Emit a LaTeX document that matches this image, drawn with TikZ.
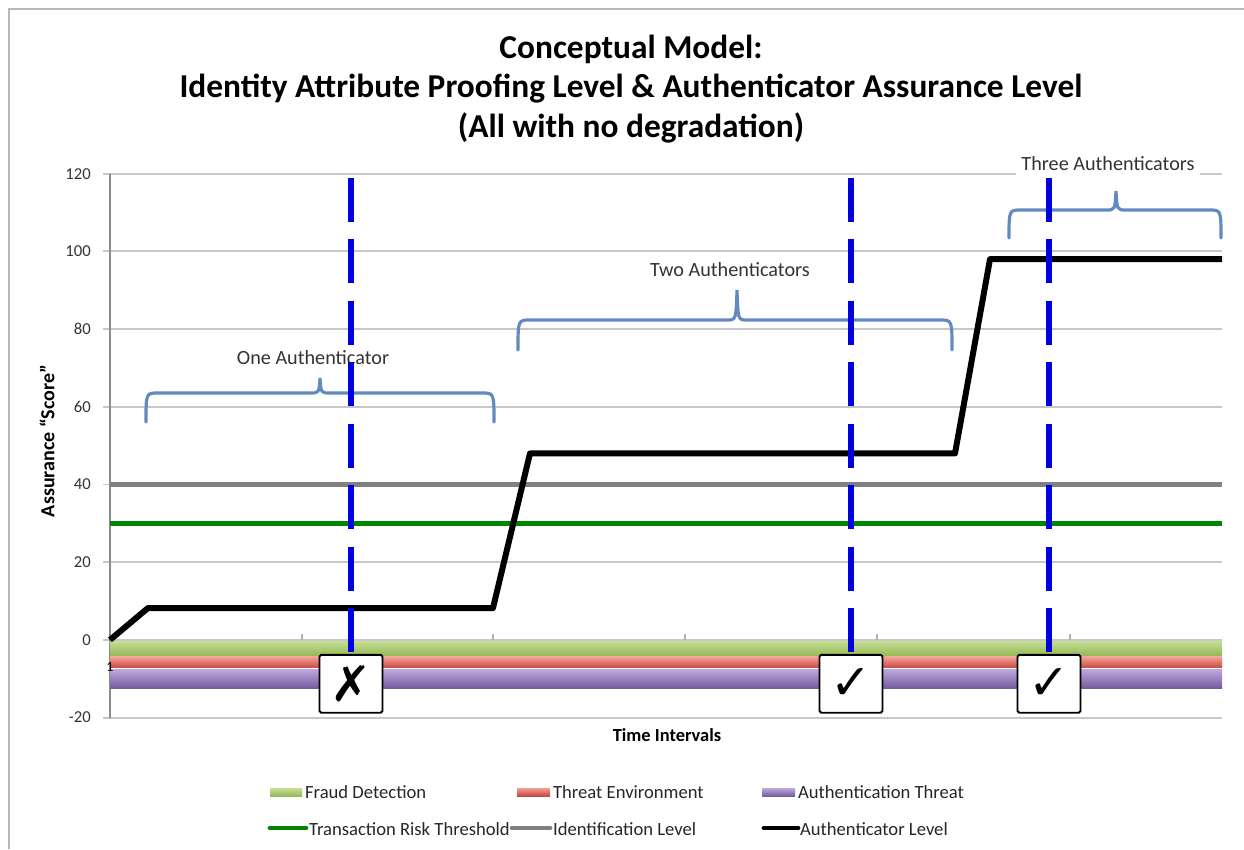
\documentclass[tikz,border=0pt]{standalone}
\usepackage{fontspec}
\setmainfont{Carlito}
\newfontfamily\symfont{DejaVu Sans}
\definecolor{bracecol}{RGB}{98,138,190}
\definecolor{authblue}{RGB}{0,0,225}
\definecolor{riskgreen}{RGB}{0,135,0}
\begin{document}
\begin{tikzpicture}[x=0.02cm,y=-0.02cm,
    grid line/.style={draw=black!22,line width=1.1pt},
    band/.style={draw=none},
    brace/.style={draw=bracecol,line width=1.8pt,line cap=round},
    auth mark/.style={draw=authblue,line width=2.9pt,dash pattern=on 25pt off 10pt},
    check box/.style={draw=black,line width=1.1pt,fill=white,rounded corners=1pt,
      minimum width=1.26cm,minimum height=1.16cm,inner sep=0pt,
      font=\symfont\fontsize{28}{28}\selectfont},
    lbl/.style={font=\fontsize{9.5}{11}\selectfont,text=black!80},
    brace text/.style={font=\fontsize{11.5}{13}\selectfont,text=black!80},
    legend text/.style={font=\fontsize{10.6}{12}\selectfont,text=black!85,anchor=west,inner sep=1pt}]
  \useasboundingbox (0,0) rectangle (1244,849);
  % Frame of the chart:
  \draw [black!28,line width=1.7pt] (9,849) -- (9,9) -- (1244,9);

  % Title:
  \node (title) at (631,89) [align=center,font=\fontsize{19}{22.7}\selectfont\bfseries]
    {Conceptual Model:\\Identity Attribute Proofing Level \& Authenticator Assurance Level\\(All with no degradation)};

  % Axis titles:
  \node (ytitle) at (47,441) [rotate=90,font=\fontsize{11.4}{13}\selectfont\bfseries] {Assurance “Score”};
  \node (xtitle) at (667,735) [font=\fontsize{10.5}{12}\selectfont\bfseries] {Time Intervals};

  % Data part: x in pixels, y in assurance score
  \begin{scope}[yshift=-12.8cm,y=0.07772cm]
    % Grid and axis labels:
    \foreach \v in {-20,0,20,...,120}{%
      \draw [grid line] (103,\v) -- (1222,\v);
      \node (tick\v) at (97,\v) [lbl,anchor=east] {\v};
    }
    \draw [black!45,line width=0.8pt] (110,120) -- (110,-20);
    \foreach \t in {302,493,685,877,1070}
      \draw [black!30,line width=0.6pt] (\t,0) -- (\t,1.6);

    % The three threat bands:
    \fill [band,top color={rgb,255:red,198;green,222;blue,150},bottom color={rgb,255:red,150;green,186;blue,88}]
      (110,-0.3) rectangle (1222,-3.9);
    \fill [band,top color={rgb,255:red,242;green,160;blue,150},bottom color={rgb,255:red,200;green,72;blue,66}]
      (110,-4.4) rectangle (1222,-7.2);
    \fill [band,top color={rgb,255:red,190;green,170;blue,222},bottom color={rgb,255:red,118;green,92;blue,160}]
      (110,-7.5) rectangle (1222,-12.4);
    \node (cat1) at (110,-7) [font=\fontsize{8}{9}\selectfont,inner sep=0pt] {1};

    % Levels:
    \draw [black!50,line width=2.8pt] (110,40) -- (1222,40);
    \draw [riskgreen,line width=2.8pt] (110,30) -- (1222,30);
    \draw [black,line width=3.4pt,line join=round]
      (110,0) -- (148,8.2) -- (493,8.2) -- (530,48) -- (955,48) -- (990,98) -- (1222,98);

    % Checks:
    \node (box1) at (351,-11.3) [check box] {✗};
    \node (box2) at (851,-11.3) [check box] {✓};
    \node (box3) at (1049,-11.3) [check box] {✓};
  \end{scope}

  % Braces and their labels:
  \draw [brace] (146,422) .. controls (146,393) .. (158,393) -- (310,393)
    .. controls (319,393) .. (320,378) .. controls (321,393) .. (330,393)
    -- (482,393) .. controls (494,393) .. (494,422);
  \node (one) at (313,358) [brace text] {One Authenticator};
  \draw [brace] (518,350) .. controls (518,320) .. (530,320) -- (727,320)
    .. controls (736,320) .. (737,290) .. controls (738,320) .. (747,320)
    -- (940,320) .. controls (952,320) .. (952,350);
  \node (two) at (730,270) [brace text] {Two Authenticators};
  \draw [brace] (1009,238) .. controls (1009,210) .. (1021,210) -- (1106,210)
    .. controls (1115,210) .. (1116,191) .. controls (1117,210) .. (1126,210)
    -- (1209,210) .. controls (1221,210) .. (1221,238);
  \node (three) at (1108,164) [brace text,fill=white] {Three Authenticators};

  % Dashed marks down to the check boxes:
  \coordinate (top1) at (351,178);
  \coordinate (top2) at (851,178);
  \coordinate (top3) at (1049,178);
  \draw [auth mark] (top1) -- (box1.north);
  \draw [auth mark] (top2) -- (box2.north);
  \draw [auth mark] (top3) -- (box3.north);

  % Legend:
  \fill [top color={rgb,255:red,198;green,222;blue,150},bottom color={rgb,255:red,150;green,186;blue,88}]
    (270,788) rectangle (302,796);
  \node (lgfraud) at (303,792) [legend text] {Fraud Detection};
  \fill [top color={rgb,255:red,242;green,160;blue,150},bottom color={rgb,255:red,200;green,72;blue,66}]
    (517,788) rectangle (550,796);
  \node (lgthreat) at (551,792) [legend text] {Threat Environment};
  \fill [top color={rgb,255:red,190;green,170;blue,222},bottom color={rgb,255:red,118;green,92;blue,160}]
    (762,788) rectangle (795,796);
  \node (lgauth) at (796,792) [legend text] {Authentication Threat};
  \draw [riskgreen,line width=2.8pt,line cap=round] (270,828) -- (306,828);
  \node (lgrisk) at (307,829) [legend text] {Transaction Risk Threshold};
  \draw [black!50,line width=2.8pt,line cap=round] (512,828) -- (550,828);
  \node (lgident) at (551,829) [legend text] {Identification Level};
  \draw [black,line width=2.8pt,line cap=round] (764,828) -- (798,828);
  \node (lgauthlvl) at (798,829) [legend text] {Authenticator Level};
\end{tikzpicture}
\end{document}
